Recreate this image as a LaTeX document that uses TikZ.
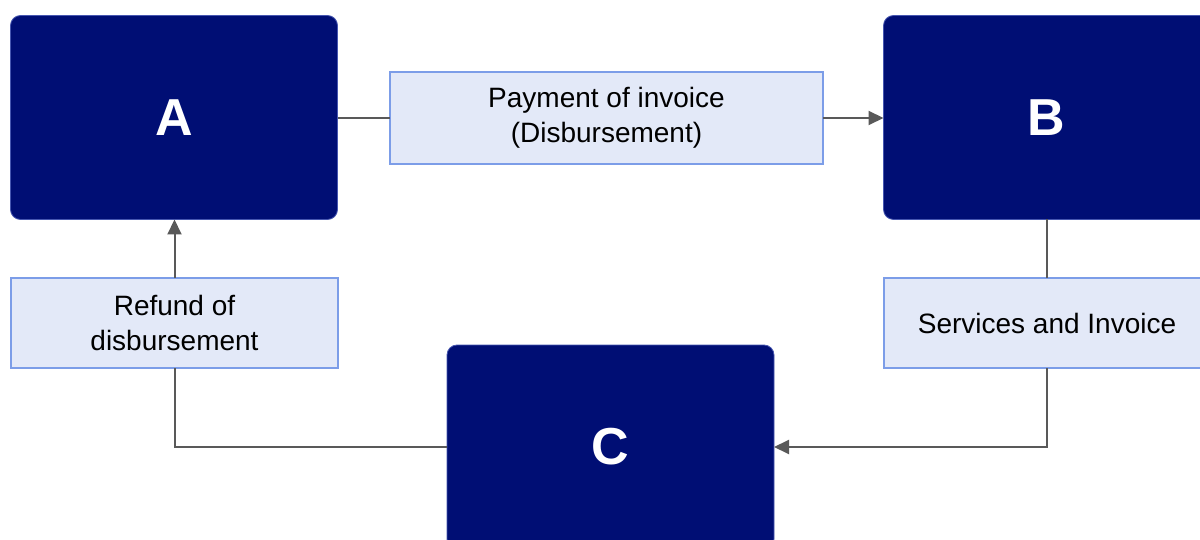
\documentclass[tikz,border=0pt]{standalone}
\usepackage{fontspec}
\setmainfont{Liberation Sans}
\usetikzlibrary{arrows.meta}
\definecolor{navy}{HTML}{000E74}
\definecolor{navyedge}{HTML}{4656B0}
\definecolor{lightfill}{HTML}{E3E9F8}
\definecolor{lightedge}{HTML}{7C9DE8}
\definecolor{linegray}{HTML}{595959}
\begin{document}
\begin{tikzpicture}[x=1pt,y=-1pt,
  party/.style={rectangle, rounded corners=10pt, fill=navy, draw=navyedge, line width=0.8pt,
    text=white, font=\bfseries\fontsize{52}{62}\selectfont, inner sep=0pt, outer sep=0pt,
    minimum width=327pt, minimum height=204pt},
  flowlabel/.style={rectangle, fill=lightfill, draw=lightedge, line width=1.2pt,
    font=\fontsize{28}{34.5}\selectfont, align=center, inner sep=0pt, outer sep=0pt},
  conn/.style={draw=linegray, line width=2pt},
  arr/.style={conn, -{Triangle[length=15pt,width=14pt]}}]
\useasboundingbox (0,0) rectangle (1200,540);
\fill[white] (0,0) rectangle (1200,540);
\node[party] (A) at (174,117.5) {A};
\node[party, minimum width=326pt] (B) at (1046.5,117.5) {B};
\node[party] (C) at (610.5,447) {C};
\node[flowlabel, minimum width=433pt, minimum height=92pt] (pay) at (606.5,118) {Payment of invoice\\(Disbursement)};
\node[flowlabel, minimum width=327pt, minimum height=90pt] (ref) at (174.5,323) {Refund of\\disbursement};
\node[flowlabel, minimum width=326pt, minimum height=90pt] (svc) at (1047,323) {Services and Invoice};
\draw[conn] (pay.west) -- (pay.west -| A.east);
\draw[arr] (pay.east) -- (pay.east -| B.west);
\draw[conn] (svc.north) -- (svc.north |- B.south);
\draw[arr] (svc.south) |- (C.east);
\draw[conn] (C.west) -| (ref.south);
\draw[arr] (ref.north) -- (ref.north |- A.south);
\end{tikzpicture}
\end{document}
